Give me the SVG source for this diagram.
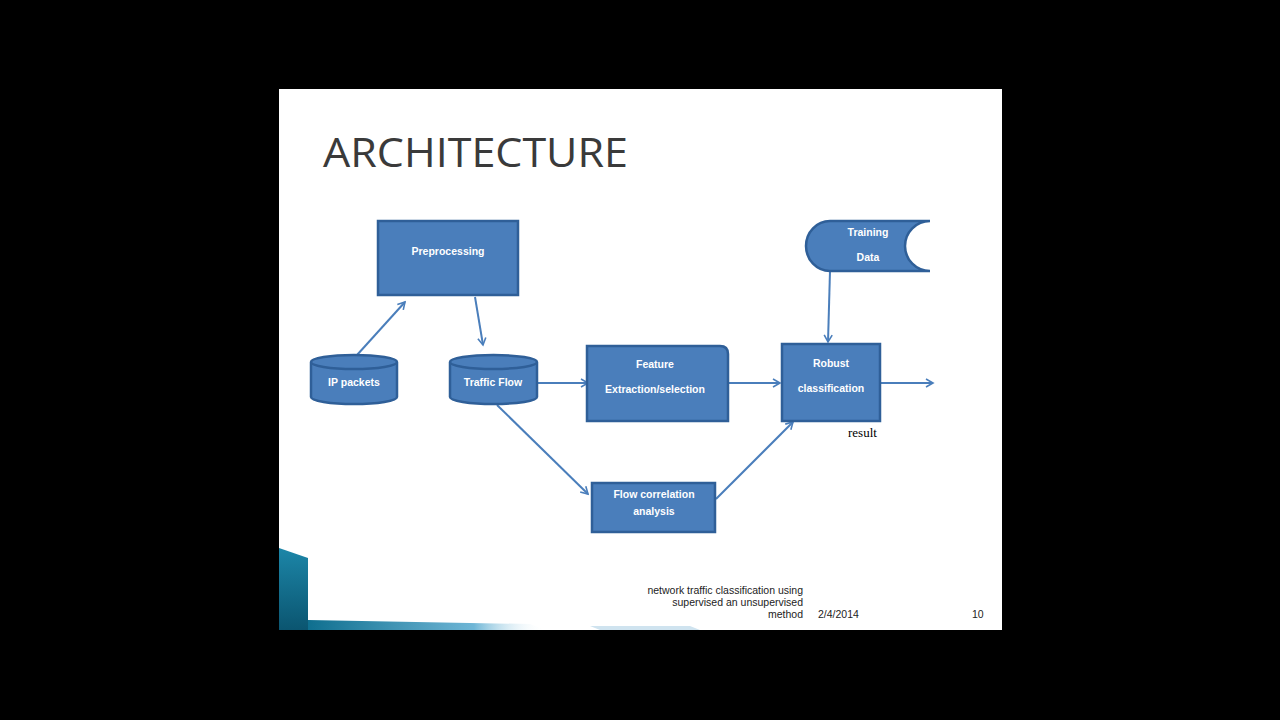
<svg xmlns="http://www.w3.org/2000/svg" width="1280" height="720" viewBox="0 0 1280 720">
<defs>
<style>
.n{fill:#4a7ebb;stroke:#2f5f98;stroke-width:2.5}
.t{font-family:"Liberation Sans",Arial,sans-serif;font-size:10.5px;font-weight:bold;fill:#fff;text-anchor:middle}
.c{stroke:#4a7ebb;stroke-width:2;fill:none;marker-end:url(#a)}
.f{font-family:"Liberation Sans Narrow","Liberation Sans",sans-serif;font-size:10.5px;fill:#222;text-anchor:end}
</style>
<marker id="a" markerWidth="10" markerHeight="10" refX="8" refY="5" orient="auto" markerUnits="userSpaceOnUse">
<path d="M1,1 L8,5 L1,9" fill="none" stroke="#4a7ebb" stroke-width="1.6"/>
</marker>
<linearGradient id="g" x1="0" x2="1" y1="0" y2="0">
<stop offset="0" stop-color="#0f6f8f"/><stop offset="0.7" stop-color="#6fb6d6"/><stop offset="1" stop-color="#fff" stop-opacity="0"/>
</linearGradient>
<linearGradient id="g2" x1="0" x2="0" y1="0" y2="1">
<stop offset="0" stop-color="#1c86a8"/><stop offset="1" stop-color="#0b5570"/>
</linearGradient>
</defs>
<rect width="1280" height="720" fill="#000"/>
<rect x="279" y="89" width="723" height="541" fill="#fff"/>
<polygon points="279,548 308,558 308,630 279,630" fill="url(#g2)"/>
<polygon points="308,620 530,624 545,630 308,630" fill="url(#g)"/>
<polygon points="590,626 690,626 700,630 600,630" fill="#cfe3ef"/>
<text x="323" y="167" font-family="Open Sans,Liberation Sans,sans-serif" font-size="40" fill="#3a3a3a" textLength="305" lengthAdjust="spacingAndGlyphs">ARCHITECTURE</text>
<g id="connectors">
<line class="c" x1="357" y1="355" x2="405" y2="302"/>
<line class="c" x1="475" y1="297" x2="483" y2="345"/>
<line class="c" x1="538" y1="383" x2="588" y2="383"/>
<line class="c" x1="729" y1="383" x2="780" y2="383"/>
<line class="c" x1="881" y1="383" x2="933" y2="383"/>
<line class="c" x1="830" y1="271" x2="828" y2="342"/>
<line class="c" x1="497" y1="405" x2="588" y2="494"/>
<line class="c" x1="716" y1="499" x2="793" y2="422"/>
</g>
<g id="preprocessing"><rect class="n" x="378" y="221" width="140" height="74"/><text class="t" x="448" y="255">Preprocessing</text></g>
<g id="ip"><path class="n" d="M311,362 v35 a43,7 0 0 0 86,0 v-35 a43,7 0 0 0 -86,0 a43,7 0 0 0 86,0"/><text class="t" x="354" y="386">IP packets</text></g>
<g id="traffic"><path class="n" d="M450,362 v35 a43.5,7 0 0 0 87,0 v-35 a43.5,7 0 0 0 -87,0 a43.5,7 0 0 0 87,0"/><text class="t" x="493" y="386">Traffic Flow</text></g>
<g id="feature"><path class="n" d="M587,346 h133 q8,0 8,8 v67 h-141 z"/><text class="t" x="655" y="368">Feature</text><text class="t" x="655" y="393">Extraction/selection</text></g>
<g id="flowcorr"><rect class="n" x="592" y="483" width="123" height="49"/><text class="t" x="654" y="498">Flow correlation</text><text class="t" x="654" y="515">analysis</text></g>
<g id="robust"><rect class="n" x="782" y="344" width="98" height="77"/><text class="t" x="831" y="367">Robust</text><text class="t" x="831" y="392">classification</text></g>
<g id="training"><path class="n" d="M830,221 h100 a25,25 0 0 0 0,50 h-100 a24,25 0 0 1 0,-50 z"/><text class="t" x="868" y="236">Training</text><text class="t" x="868" y="261">Data</text></g>
<text x="848" y="437" font-family="Liberation Serif,serif" font-size="13" fill="#000">result</text>
<text class="f" x="803" y="594">network traffic classification using</text>
<text class="f" x="803" y="606">supervised an unsupervised</text>
<text class="f" x="803" y="618">method</text>
<text x="818" y="618" font-family="Liberation Sans Narrow,Liberation Sans,sans-serif" font-size="10.5" fill="#222">2/4/2014</text>
<text x="972" y="618" font-family="Liberation Sans Narrow,Liberation Sans,sans-serif" font-size="10.5" fill="#222">10</text>
</svg>
